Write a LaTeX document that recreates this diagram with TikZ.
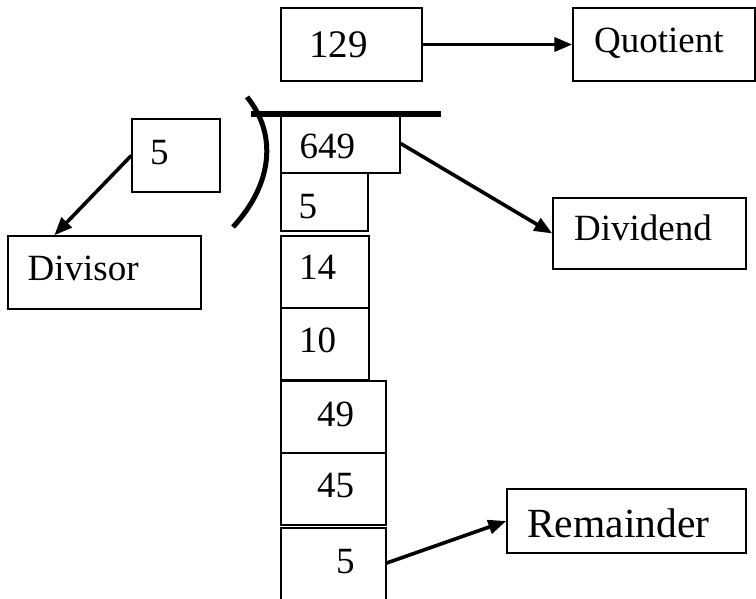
\documentclass[tikz,border=0pt]{standalone}
\usepackage{fontspec}
\setmainfont{Liberation Serif}
\usetikzlibrary{arrows.meta}
\tikzset{
  box/.style={draw, line width=1.4pt, inner sep=0pt},
  lbl/.style={anchor=base west, inner sep=0pt, font=\fontsize{37}{44}\selectfont},
  biglbl/.style={anchor=base west, inner sep=0pt, font=\fontsize{41.5}{48}\selectfont},
  conn/.style={line width=3.6pt, -{Triangle[length=18pt,width=14pt]}},
}
\begin{document}
\begin{tikzpicture}[x=1pt,y=-1pt]
\useasboundingbox (0,0) rectangle (756,598);
% boxes
\node[box, minimum width=141pt, minimum height=73pt] (q129) at (351.5,44.5) {};
\node[box, minimum width=182pt, minimum height=73pt] (quot) at (664,44.5) {};
\node[box, minimum width=88pt, minimum height=73pt] (d5) at (176,155.5) {};
\node[box, minimum width=193pt, minimum height=73pt] (divisor) at (104.5,272.5) {};
\node[box, minimum width=193pt, minimum height=71pt] (dividend) at (649.5,233.5) {};
\node[box, minimum width=239pt, minimum height=64pt] (remainder) at (626.5,521) {};
\node[box, minimum width=119pt, minimum height=59pt] (b649) at (340.5,143.5) {};
\node[box, minimum width=87pt, minimum height=58pt] (b5a) at (324.5,202) {};
\node[box, minimum width=88pt, minimum height=72pt] (b14) at (325,272) {};
\node[box, minimum width=88pt, minimum height=72pt] (b10) at (325,344) {};
\node[box, minimum width=105pt, minimum height=72pt] (b49) at (333.5,417) {};
\node[box, minimum width=105pt, minimum height=72pt] (b45) at (333.5,489) {};
\node[box, minimum width=105pt, minimum height=76pt] (b5r) at (333.5,566) {};
% texts
\node[lbl, font=\fontsize{39}{46}\selectfont] (t129) at (309,57) {129};
\node[lbl] (tquot) at (594,52) {Quotient};
\node[lbl] (td5) at (150,164) {5};
\node[lbl] (tdivisor) at (27.5,280) {Divisor};
\node[lbl] (tdividend) at (574,240) {Dividend};
\node[biglbl] (tremainder) at (527,537) {Remainder};
\node[lbl] (t649) at (299.5,158) {649};
\node[lbl] (t5a) at (298.5,218) {5};
\node[lbl] (t14) at (299,279.5) {14};
\node[lbl] (t10) at (299,352) {10};
\node[lbl] (t49) at (317,426) {49};
\node[lbl] (t45) at (317,497) {45};
\node[lbl] (t5r) at (336,573) {5};
% division bracket
\draw[line width=5pt] (247,97) .. controls (278,135) and (272,185) .. (233,227);
\draw[line width=6pt] (251,114) -- (441,114);
% connectors
\draw[conn] (q129.east) -- (quot.west);
\draw[conn] (d5.west) -- ([xshift=47pt]divisor.north west);
\draw[conn] (b649.east) -- (dividend.west);
\draw[conn] ([yshift=3pt]b5r.east) -- (remainder.west);
\end{tikzpicture}
\end{document}
